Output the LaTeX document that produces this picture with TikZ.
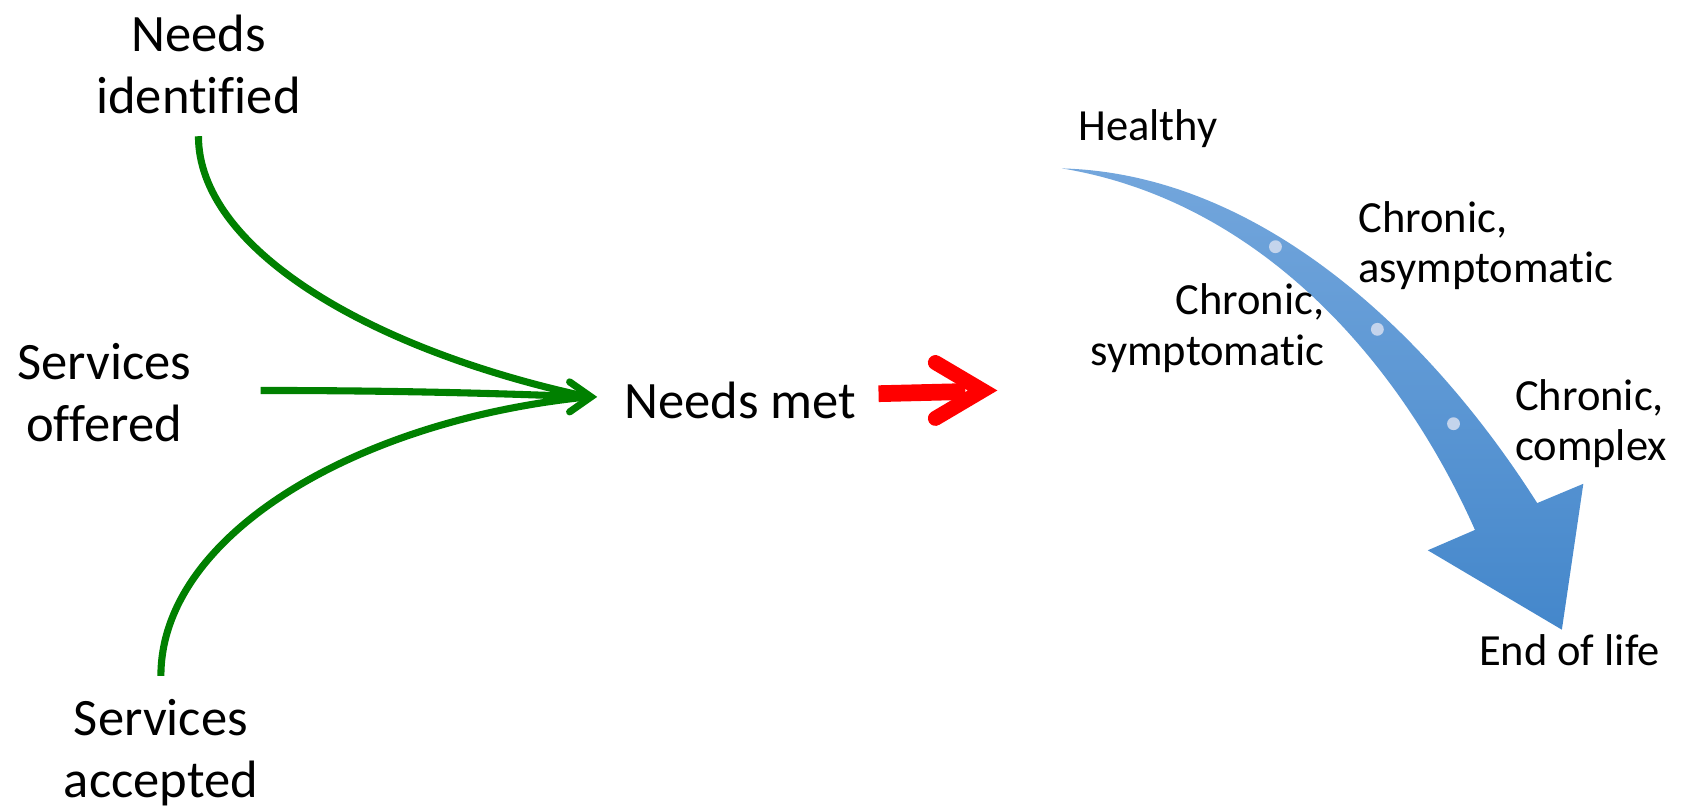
\documentclass[tikz,border=0pt]{standalone}
\usepackage{fontspec}
\setmainfont{Carlito}[Ligatures=NoCommon]
\definecolor{gline}{RGB}{0,128,0}
\definecolor{bluetop}{RGB}{115,166,220}
\definecolor{bluebot}{RGB}{68,135,203}
\definecolor{dotc}{RGB}{196,212,236}
\begin{document}
\begin{tikzpicture}[x=0.5pt,y=-0.5pt,
  lbl/.style={inner sep=0pt, font=\fontsize{24.5}{29}\selectfont, align=center},
  rlbl/.style={inner sep=0pt, font=\fontsize{20.75}{23.5}\selectfont},
  gconn/.style={draw=gline, line width=3.3pt},
  ghead/.style={draw=gline, line width=3.3pt, line cap=round, line join=miter},
  rshaft/.style={draw=red, line width=7.8pt},
  rhead/.style={draw=red, line width=7pt, line cap=round, line join=miter},
  bigarrow/.style={top color=bluetop, bottom color=bluebot},
  stagedot/.style={fill=dotc}]
\useasboundingbox (0,0) rectangle (1568,754);

% big blue arrow
\shade[bigarrow] (990,157) .. controls (1178,162) and (1336,316) .. (1433,469)
  -- (1476,451) -- (1456,587) -- (1331,513) -- (1375,494)
  .. controls (1304,334) and (1172,187) .. (990,157) -- cycle;
\fill[stagedot] (1189,230) circle (3pt);
\fill[stagedot] (1284,307) circle (3pt);
\fill[stagedot] (1355,395) circle (3pt);

% left labels
\node[lbl] (ni) at (185,60) {Needs\\identified};
\node[lbl] (so) at (97,366) {Services\\offered};
\node[lbl] (sa) at (150,702) {Services\\accepted};
\node[lbl] (nm) at (690,373) {Needs met};

% green connectors
\coordinate (niend) at (185,127);
\coordinate (soend) at (243,364);
\coordinate (saend) at (150,630);
\coordinate (gjoin) at (548,370);
\coordinate (gtip) at (551,370);
\coordinate (gup) at (531,356);
\coordinate (gdn) at (531,384);
\draw[gconn] (niend) .. controls (185,230) and (340,325) .. (gjoin);
\draw[gconn] (soend) .. controls (350,364) and (450,366) .. (gjoin);
\draw[gconn] (saend) .. controls (150,500) and (330,392) .. (gjoin);
\draw[ghead] (gup) -- (gtip) -- (gdn);

% red arrow
\coordinate (rs) at (819,367);
\coordinate (re) at (900,365);
\coordinate (rt) at (916,364);
\coordinate (rup) at (872,338);
\coordinate (rdn) at (872,390);
\draw[rshaft] (rs) -- (re);
\draw[rhead] (rup) -- (rt) -- (rdn);

% right labels
\node[rlbl] (h) at (1070,120) {Healthy};
\node[rlbl, anchor=west, align=left] (ca) at (1266,229) {Chronic,\\asymptomatic};
\node[rlbl, anchor=east, align=right] (cs) at (1235,306) {Chronic,\\symptomatic};
\node[rlbl, anchor=west, align=left] (cc) at (1412,395) {Chronic,\\complex};
\node[rlbl] (eol) at (1463,606) {End of life};
\end{tikzpicture}
\end{document}
